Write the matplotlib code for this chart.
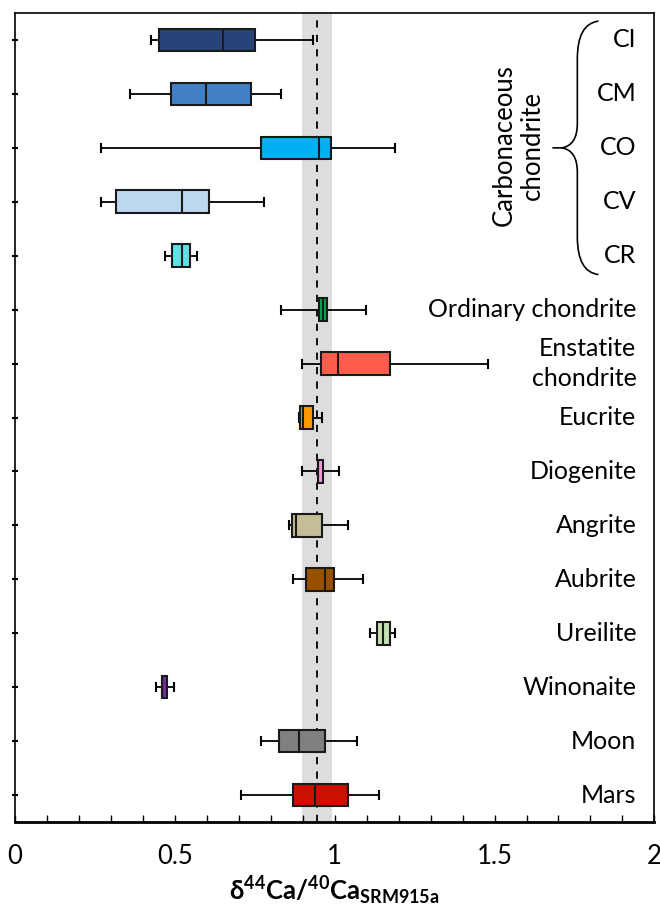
import matplotlib
matplotlib.use("Agg")
import matplotlib.pyplot as plt
from matplotlib.path import Path
from matplotlib.patches import PathPatch

plt.rcParams['font.family'] = ['Lato', 'DejaVu Sans']
plt.rcParams['mathtext.fontset'] = 'custom'
plt.rcParams['mathtext.rm'] = 'Lato'
plt.rcParams['mathtext.bf'] = 'Lato:bold'

# delta44/40Ca values per meteorite group (top to bottom)
groups = ['CI', 'CM', 'CO', 'CV', 'CR', 'Ordinary chondrite', 'Enstatite\nchondrite',
          'Eucrite', 'Diogenite', 'Angrite', 'Aubrite', 'Ureilite', 'Winonaite', 'Moon', 'Mars']
whis_lo = [0.426, 0.359, 0.268, 0.268, 0.468, 0.833, 0.899, 0.889, 0.898, 0.857, 0.870, 1.112, 0.440, 0.770, 0.707]
q1 = [0.450, 0.487, 0.769, 0.315, 0.492, 0.950, 0.956, 0.893, 0.949, 0.865, 0.909, 1.132, 0.459, 0.827, 0.870]
med = [0.650, 0.598, 0.951, 0.522, 0.521, 0.965, 1.009, 0.900, 0.949, 0.878, 0.969, 1.152, 0.459, 0.889, 0.937]
q3 = [0.750, 0.737, 0.989, 0.608, 0.546, 0.976, 1.172, 0.933, 0.965, 0.961, 0.998, 1.172, 0.474, 0.970, 1.042]
whis_hi = [0.931, 0.833, 1.190, 0.779, 0.570, 1.098, 1.480, 0.961, 1.014, 1.042, 1.089, 1.189, 0.496, 1.070, 1.140]
colors = ['#264478', '#4180C6', '#00B0F0', '#BDD7EE', '#5CE1E6', '#00A650', '#FF5C4D',
          '#FF9900', '#F09CDB', '#C4BD97', '#974F00', '#C5E0B4', '#7030A0', '#808080', '#CC1000']

# reference band (bulk silicate Earth)
band_lo, band_hi, band_mid = 0.897, 0.991, 0.946

fig = plt.figure(figsize=(6.6, 9.11), dpi=100)
ax = fig.add_axes([0.0227, 0.0977, 0.9688, 0.888])

ax.axvspan(band_lo, band_hi, color='#DDDDDD', zorder=0, lw=0)
ax.axvline(band_mid, color='black', ls=(0, (4, 4)), lw=1.3, zorder=1)

pos = list(range(1, len(groups) + 1))
stats = [dict(whislo=a, q1=b, med=c, q3=d, whishi=e, fliers=[])
         for a, b, c, d, e in zip(whis_lo, q1, med, q3, whis_hi)]
bp = ax.bxp(stats, positions=pos, vert=False, widths=0.42, capwidths=0.15,
            patch_artist=True, showfliers=False,
            boxprops=dict(edgecolor='#1a1a1a', linewidth=1.5, zorder=3),
            medianprops=dict(color='#1a1a1a', linewidth=1.5, zorder=4),
            whiskerprops=dict(color='black', linewidth=1.3),
            capprops=dict(color='black', linewidth=1.5))
for box, c in zip(bp['boxes'], colors):
    box.set_facecolor(c)

# labels on the right
for i, g in enumerate(groups):
    ax.text(1.944, pos[i], g, ha='right', va='center', fontsize=18,
            multialignment='right', linespacing=1.4)

# brace for the carbonaceous chondrites
xt, xv, xe = 1.681, 1.759, 1.825
ym = 3.0
yt, yb = 0.65, 5.35
verts = [(xe, yt), (xv, yt + 0.05), (xv, yt + 0.7),
         (xv, ym - 0.45),
         (xv, ym - 0.05), (xt + 0.03, ym), (xt, ym),
         (xt + 0.03, ym), (xv, ym + 0.05), (xv, ym + 0.45),
         (xv, yb - 0.7),
         (xv, yb - 0.05), (xe, yb)]
codes = [Path.MOVETO, Path.CURVE3, Path.CURVE3,
         Path.LINETO,
         Path.CURVE3, Path.CURVE3, Path.LINETO,
         Path.MOVETO, Path.CURVE3, Path.CURVE3,
         Path.LINETO,
         Path.CURVE3, Path.CURVE3]
ax.add_patch(PathPatch(Path(verts, codes), fill=False, lw=1.2, color='black'))
ax.text(1.575, 2.95, 'Carbonaceous\nchondrite', rotation=90, ha='center', va='center',
        fontsize=18.5, linespacing=1.15)

ax.set_xlim(0, 2)
ax.set_ylim(15.5, 0.5)
ax.set_xticks([0, 0.5, 1, 1.5, 2])
ax.set_xticklabels(['0', '0.5', '1', '1.5', '2'])
ax.set_xticks([i / 10 for i in range(21)], minor=True)
ax.tick_params(axis='x', which='both', direction='in', length=5, width=1, labelsize=18.5, pad=16)
ax.set_yticks(pos)
ax.set_yticklabels([])
ax.tick_params(axis='y', direction='inout', length=5, width=1.5)
ax.set_xlabel(r'$\mathbf{\delta^{44}Ca/^{40}Ca_{SRM915a}}$', fontsize=18.5, labelpad=4)
for s in ax.spines.values():
    s.set_linewidth(1.2)
ax.spines['bottom'].set_linewidth(2)

fig.savefig('out.png', dpi=100)
